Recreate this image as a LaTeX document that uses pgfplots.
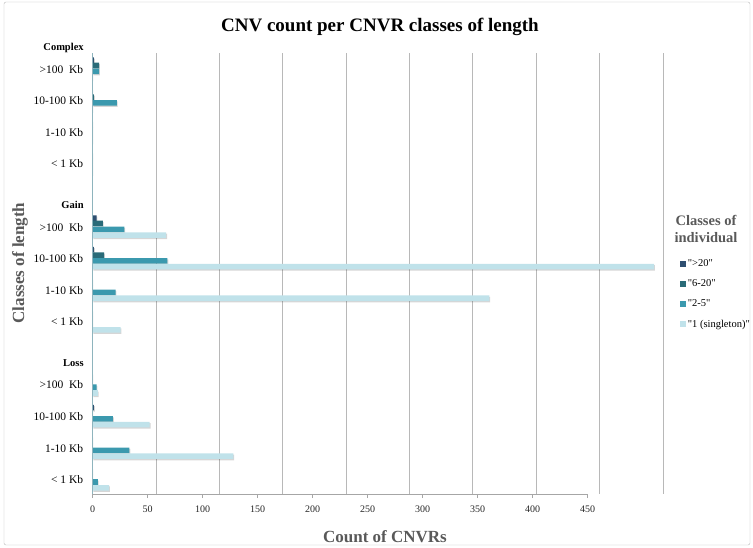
\documentclass[border=0pt]{standalone}
\usepackage{fontspec}
\setmainfont{Liberation Serif}
\usepackage{pgfplots}
\usepackage{pgfplotstable}
\pgfplotsset{compat=1.18}

\definecolor{cA}{HTML}{2E4F70}
\definecolor{cB}{HTML}{2A6B78}
\definecolor{cC}{HTML}{3B99AE}
\definecolor{cD}{HTML}{C0E2EA}
\definecolor{txtgray}{HTML}{595959}
\definecolor{gridgray}{HTML}{B8B8B8}
\definecolor{yaxisc}{HTML}{8EB4BD}

% pos: 1-4 Complex, 6-9 Gain, 11-14 Loss ; a=">20", b="6-20", c="2-5", d="1 (singleton)"
\pgfplotstableread{
pos a b c d
1  1 5 5  0
2  0 1 19 0
3  0 0 0  0
4  0 0 0  0
6  3 8 25 58
7  1 9 59 443
8  0 0 18 313
9  0 0 0  22
11 0 0 3  4
12 1 0 16 45
13 0 0 29 111
14 0 0 4  13
}\cnvdata

\begin{document}
\begin{tikzpicture}[x=1pt,y=1pt]
\useasboundingbox (-92.7,-53) rectangle (660.3,494);
\draw[gray!55, rounded corners=2pt] (-88.7,492) rectangle (657.3,-51);
\begin{axis}[
  at={(0,0)}, anchor=south west,
  scale only axis, width=570.3pt, height=441pt,
  xmin=0, xmax=450,
  ymin=0.49, ymax=14.45, y dir=reverse,
  clip=false,
  xbar, bar width=0.175,
  axis line style={draw=none},
  tick pos=left,
  xtick={0,50,...,450}, xticklabels={},
  xmajorgrids, grid style={gridgray, line width=0.8pt},
  major x tick style={draw=none},
  extra x ticks={0,43.4,86.8,130.2,173.6,217.0,260.4,303.8,347.2,390.6},
  extra x tick labels={0,50,100,150,200,250,300,350,400,450},
  extra x tick style={grid=none, tick align=outside, major tick length=4pt,
     major x tick style={draw=gray!70, line width=0.6pt}},
  xticklabel style={font=\fontsize{10}{12}\selectfont, text=black!85, yshift=-4pt},
  /pgf/number format/assume math mode=true,
  ytick={1,2,3,4,6,7,8,9,11,12,13,14},
  yticklabels={>100\ \ Kb,10-100 Kb,1-10 Kb,< 1 Kb,>100\ \ Kb,10-100 Kb,1-10 Kb,< 1 Kb,>100\ \ Kb,10-100 Kb,1-10 Kb,< 1 Kb},
  major y tick style={draw=none}, major tick length=0pt,
  yticklabel style={font=\fontsize{11.5}{13}\selectfont, xshift=-6pt},
  legend image code/.code={\fill[#1, draw=none] (0pt,-2.8pt) rectangle (5.6pt,2.8pt);},
  legend style={draw=none, fill=none, inner sep=0pt, anchor=north west,
     at={(axis description cs:1.03,0.536)}, font=\fontsize{10.5}{12}\selectfont,
     row sep=7.5pt, cells={anchor=west}},
  myshadow/.style={preaction={fill=black, fill opacity=0.16, transform canvas={xshift=0.8pt, yshift=-1.3pt}}},
]
\addplot[forget plot, fill=cA, draw=none, bar shift=-0.285, myshadow] table[x=a, y=pos] {\cnvdata};
\addplot[forget plot, fill=cB, draw=none, bar shift=-0.114, myshadow] table[x=b, y=pos] {\cnvdata};
\addplot[forget plot, fill=cC, draw=none, bar shift=0.07, myshadow] table[x=c, y=pos] {\cnvdata};
\addplot[forget plot, fill=cD, draw=none, bar shift=0.253, myshadow] table[x=d, y=pos] {\cnvdata};
\addlegendimage{fill=cA, draw=none}
\addlegendentry{\textquotedbl{>}20\textquotedbl}
\addlegendimage{fill=cB, draw=none}
\addlegendentry{\textquotedbl 6-20\textquotedbl}
\addlegendimage{fill=cC, draw=none}
\addlegendentry{\textquotedbl 2-5\textquotedbl}
\addlegendimage{fill=cD, draw=none}
\addlegendentry{\textquotedbl 1 (singleton)\textquotedbl}
\draw[yaxisc, line width=1.2pt] (axis cs:0,0.49) -- (axis cs:0,14.45);
\draw[gray!70, line width=0.6pt] (axis cs:0,14.45) -- (axis cs:390.6,14.45);
\node[anchor=east, font=\bfseries\fontsize{10.5}{12}\selectfont, xshift=-5.5pt] at (axis cs:0,0.335) {Complex};
\node[anchor=east, font=\bfseries\fontsize{10.5}{12}\selectfont, xshift=-5.5pt] at (axis cs:0,5.30) {Gain};
\node[anchor=east, font=\bfseries\fontsize{10.5}{12}\selectfont, xshift=-5.5pt] at (axis cs:0,10.30) {Loss};
\end{axis}
\node[font=\bfseries\fontsize{19}{22}\selectfont] at (287.3,467) {CNV count per CNVR classes of length};
\node[font=\bfseries\fontsize{17}{20}\selectfont, text=txtgray, rotate=90] at (-72.7,231) {Classes of length};
\node[font=\bfseries\fontsize{17}{20}\selectfont, text=txtgray] at (292.3,-43) {Count of CNVRs};
\node[font=\bfseries\fontsize{14.5}{17}\selectfont, text=txtgray, align=center] at (613.3,265) {Classes of\\individual};
\end{tikzpicture}
\end{document}
